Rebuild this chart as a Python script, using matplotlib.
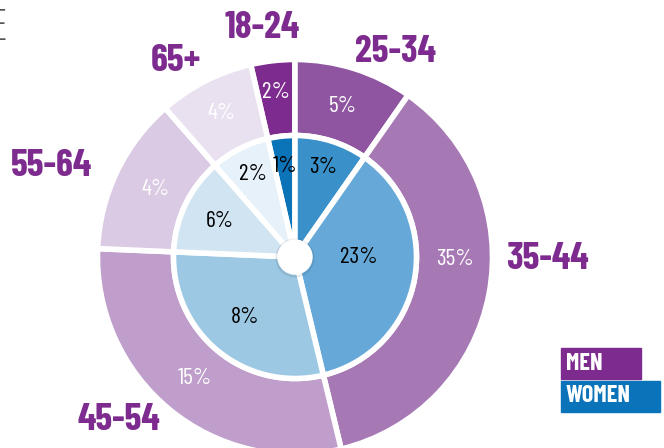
import matplotlib
matplotlib.use('Agg')
import matplotlib.pyplot as plt
import numpy as np

plt.rcParams['font.family'] = ['Barlow Condensed', 'IBM Plex Sans Condensed', 'DejaVu Sans']

# age groups, their share of respondents (wedge size) and the % for men / women
age_groups = ['18-24', '25-34', '35-44', '45-54', '55-64', '65+']
age_share = [3.6, 9.7, 36.5, 29.4, 12.9, 7.8]
men_pct = [2, 5, 35, 15, 4, 4]
women_pct = [1, 3, 23, 8, 6, 2]

men_colors = ['#7E2B8F', '#8F55A1', '#A679B5', '#BF9ECC', '#DACAE4', '#EAE1F0']
women_colors = ['#0B73B8', '#3A91CA', '#66A9D8', '#9CC8E3', '#D0E4F2', '#E6F1F9']

W, H = 664, 448
fig = plt.figure(figsize=(W / 100, H / 100), dpi=100)
ax = fig.add_axes([0, 0, 1, 1])

cx, cy = 295, H - 257
r_out, r_in = 197.5, 121.5
start = 90 + age_share[0] / sum(age_share) * 360

outer, _ = ax.pie(age_share, radius=r_out, center=(cx, cy), colors=men_colors,
                  startangle=start, counterclock=False,
                  wedgeprops=dict(width=r_out - r_in, edgecolor='white', linewidth=4))
inner, _ = ax.pie(age_share, radius=r_in, center=(cx, cy), colors=women_colors,
                  startangle=start, counterclock=False,
                  wedgeprops=dict(edgecolor='white', linewidth=4))

# white hub in the middle with a soft shadow
ax.add_patch(plt.Circle((cx, cy - 1), 19, color='#000000', alpha=0.06, zorder=4))
ax.add_patch(plt.Circle((cx, cy), 17, color='white', zorder=5))

# label placement: radius of each label and a small angle nudge (degrees)
outer_r = [166, 158, 160, 158, 155, 161]
inner_r = [91, 94, 64, 79, 83, 93]
nudge = [0, 0, 10, 0, 0, 0]


def mid_point(w, r, extra=0):
    a = np.deg2rad((w.theta1 + w.theta2) / 2 + extra)
    return cx + r * np.cos(a), cy + r * np.sin(a)


for i, w in enumerate(outer):
    x, y = mid_point(w, outer_r[i], nudge[i])
    ax.text(x, y, f'{men_pct[i]}%', color='white', fontsize=17,
            ha='center', va='center', zorder=6)

for i, w in enumerate(inner):
    x, y = mid_point(w, inner_r[i], nudge[i])
    ax.text(x, y, f'{women_pct[i]}%', color='black', fontsize=17,
            ha='center', va='center', zorder=6)

# age group names round the ring
age_pos = [(262.5, 420), (396, 396.5), (547, 189), (118.5, 28), (51.7, 282), (176, 387)]
for name, (x, y) in zip(age_groups, age_pos):
    ax.text(x, y, name, color='#7E2B8F', fontsize=27.5, fontweight='bold',
            ha='center', va='center')

# legend boxes
ax.add_patch(plt.Rectangle((561, 69), 80, 31.3, color='#7E2B8F', zorder=3))
ax.add_patch(plt.Rectangle((561, 36.3), 99, 30.7, color='#0A73B9', zorder=3))
ax.text(566, 84.5, 'MEN', color='white', fontsize=17.5, fontweight='bold',
        ha='left', va='center', zorder=4)
ax.text(566, 51.5, 'WOMEN', color='white', fontsize=17.5, fontweight='bold',
        ha='left', va='center', zorder=4)

# edge of the heading that runs off the left side
ax.text(9, H - 27, 'E', color='#555555', fontsize=30, ha='right', va='center',
        family='DejaVu Sans', fontweight='light')

ax.set_xlim(0, W)
ax.set_ylim(0, H)
ax.set_aspect('equal')
ax.axis('off')

fig.savefig('out.png', dpi=100)
